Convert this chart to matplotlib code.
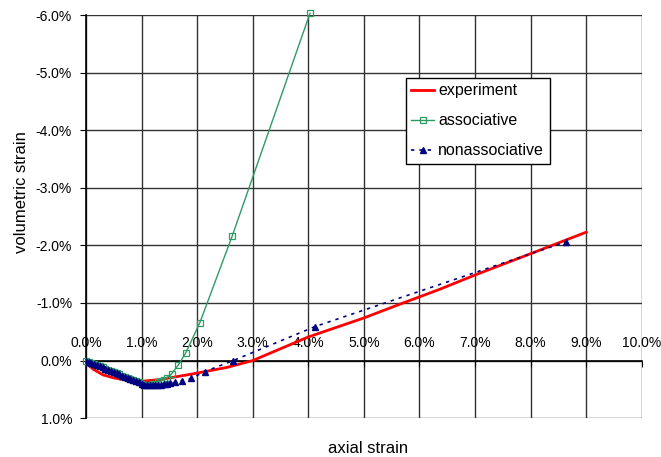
import matplotlib
matplotlib.use('Agg')
from matplotlib import pyplot as plt
from matplotlib.ticker import FormatStrFormatter

# values in percent
exp_x = [0.00, 0.05, 0.13, 0.31, 0.50, 0.73, 1.00, 1.33, 1.93, 2.53, 3.00,
         4.00, 5.00, 5.65, 6.37, 7.01, 8.01, 9.00]
exp_y = [0.00, 0.08, 0.15, 0.25, 0.30, 0.34, 0.36, 0.33, 0.23, 0.12, 0.00,
         -0.41, -0.74, -0.98, -1.24, -1.49, -1.86, -2.23]

assoc_x = [0.00, 0.05, 0.10, 0.15, 0.20, 0.25, 0.30, 0.35, 0.40, 0.45, 0.50,
           0.55, 0.60, 0.65, 0.70, 0.75, 0.80, 0.85, 0.90, 0.95, 1.00, 1.05,
           1.10, 1.15, 1.20, 1.25, 1.30, 1.35, 1.40, 1.45, 1.54, 1.66, 1.80,
           2.05, 2.63, 4.03]
assoc_y = [0.00, 0.02, 0.04, 0.06, 0.08, 0.10, 0.12, 0.14, 0.16, 0.18, 0.20,
           0.22, 0.24, 0.26, 0.28, 0.30, 0.32, 0.34, 0.36, 0.38, 0.40, 0.42,
           0.43, 0.42, 0.41, 0.40, 0.38, 0.36, 0.33, 0.30, 0.23, 0.08, -0.14,
           -0.66, -2.16, -6.03]

nonassoc_x = [0.00, 0.05, 0.10, 0.15, 0.20, 0.25, 0.30, 0.35, 0.40, 0.45,
              0.50, 0.55, 0.60, 0.65, 0.70, 0.75, 0.80, 0.85, 0.90, 0.95,
              1.00, 1.05, 1.10, 1.15, 1.20, 1.25, 1.30, 1.35, 1.40, 1.45,
              1.52, 1.61, 1.72, 1.89, 2.14, 2.65, 4.12, 8.63]
nonassoc_y = [0.00, 0.02, 0.04, 0.06, 0.08, 0.10, 0.12, 0.14, 0.16, 0.18,
              0.20, 0.22, 0.24, 0.26, 0.28, 0.30, 0.32, 0.34, 0.36, 0.38,
              0.40, 0.42, 0.43, 0.43, 0.43, 0.43, 0.42, 0.42, 0.41, 0.40,
              0.39, 0.38, 0.35, 0.31, 0.19, 0.00, -0.59, -2.06]

x_ticks = [0, 1, 2, 3, 4, 5, 6, 7, 8, 9, 10]
y_ticks = [-6, -5, -4, -3, -2, -1, 0, 1]

plt.rcParams['font.family'] = ['Liberation Sans', 'DejaVu Sans']

fig = plt.figure(figsize=(6.61, 4.57), dpi=100)
ax = fig.add_axes([0.130, 0.085, 0.841, 0.882])

ax.plot(exp_x, exp_y, color='#ff0000', lw=2, label='experiment', zorder=3)
ax.plot(assoc_x, assoc_y, color='#2e9b63', lw=1, marker='s', ms=4,
        mfc='none', mec='#2e9b63', mew=0.9, label='associative',
        zorder=4, clip_on=False)
ax.plot(nonassoc_x, nonassoc_y, color='#000080', lw=1.2, ls=(0, (2, 3)),
        marker='^', ms=4.5, mfc='#000080', mec='#000080',
        label='nonassociative', zorder=5)

ax.set_xlim(0, 10)
ax.set_ylim(1, -6)
ax.set_xticks(x_ticks)
ax.set_yticks(y_ticks)
ax.xaxis.set_major_formatter(FormatStrFormatter('%.1f%%'))
ax.yaxis.set_major_formatter(FormatStrFormatter('%.1f%%'))

ax.grid(True, color='#333333', lw=1)
ax.set_axisbelow(True)

ax.xaxis.tick_top()
ax.spines['top'].set_position(('data', 0))
ax.spines['bottom'].set_visible(False)
ax.spines['right'].set_visible(False)
ax.spines['left'].set_linewidth(1.2)
ax.spines['top'].set_linewidth(1.2)
ax.tick_params(axis='x', direction='in', length=4, pad=7.5, labelsize=10)
ax.tick_params(axis='y', direction='out', length=4, pad=6, labelsize=10)

ax.set_xlabel('axial strain', fontsize=12)
ax.xaxis.set_label_position('bottom')
ax.xaxis.set_label_coords(0.507, -0.057)
ax.set_ylabel('volumetric strain', fontsize=12)
ax.yaxis.set_label_coords(-0.102, 0.561)

leg = ax.legend(loc='upper left', bbox_to_anchor=(0.575, 0.845),
                borderaxespad=0, fontsize=11.5, fancybox=False,
                framealpha=1, edgecolor='black', handlelength=1.45,
                handletextpad=0.25, labelspacing=0.95, borderpad=0.35)
leg.get_frame().set_linewidth(1)

plt.savefig('out.png')
